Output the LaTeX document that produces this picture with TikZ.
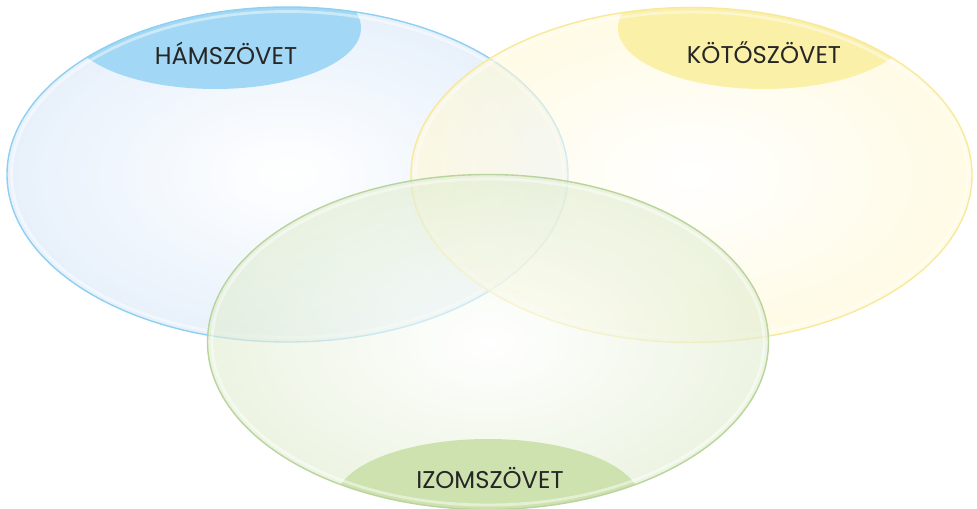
\documentclass[tikz,border=0pt]{standalone}
\usepackage{fontspec}
\setmainfont{Poppins}
\usetikzlibrary{positioning}

\definecolor{hamfill}{HTML}{D9E8F9}
\definecolor{hamline}{HTML}{8DD0F2}
\definecolor{hamcap}{HTML}{A2D8F5}
\definecolor{kotfill}{HTML}{FFF8D4}
\definecolor{kotline}{HTML}{F8E99A}
\definecolor{kotcap}{HTML}{FAF0A8}
\definecolor{izofill}{HTML}{E0EDD0}
\definecolor{izoline}{HTML}{B8D49C}
\definecolor{izocap}{HTML}{CEE2B0}

\begin{document}
\begin{tikzpicture}[x=0.02cm,y=-0.02cm,
  big/.style={x radius=280.5,y radius=167.5},
  tissue/.style={fill opacity=0.62},
  rim/.style={draw=white,line width=1.6pt,draw opacity=0.45},
  caption/.style={font=\fontsize{13.8}{16}\selectfont,text=black!85}]

\useasboundingbox (0,0) rectangle (977,509);

\coordinate (ham) at (287.5,174.5);
\coordinate (kot) at (691.5,175);
\coordinate (izo) at (488,342);

% blue
\shade[tissue,inner color=white,outer color=hamfill] (ham) ellipse [big];
\begin{scope}
  \clip (ham) ellipse [big];
  \fill[hamcap] (215,28) ellipse [x radius=146,y radius=61];
\end{scope}
\draw[rim] (ham) ellipse [x radius=276,y radius=163];
\draw[hamline,line width=0.8pt] (ham) ellipse [big];

% yellow
\shade[tissue,inner color=white,outer color=kotfill] (kot) ellipse [big];
\begin{scope}
  \clip (kot) ellipse [big];
  \fill[kotcap] (764,28) ellipse [x radius=146,y radius=61];
\end{scope}
\draw[rim] (kot) ellipse [x radius=276,y radius=163];
\draw[kotline,line width=0.8pt] (kot) ellipse [big];

% green
\shade[tissue,inner color=white,outer color=izofill] (izo) ellipse [big];
\begin{scope}
  \clip (izo) ellipse [big];
  \fill[izocap] (488,500) ellipse [x radius=152,y radius=61];
\end{scope}
\draw[rim] (izo) ellipse [x radius=276,y radius=163];
\draw[izoline,line width=0.8pt] (izo) ellipse [big];

\node[caption] (hamtext) at (226,53) {HÁMSZÖVET};
\node[caption] (kottext) at (764,53) {KÖTŐSZÖVET};
\node[caption] (izotext) at (490,478) {IZOMSZÖVET};

\end{tikzpicture}
\end{document}
